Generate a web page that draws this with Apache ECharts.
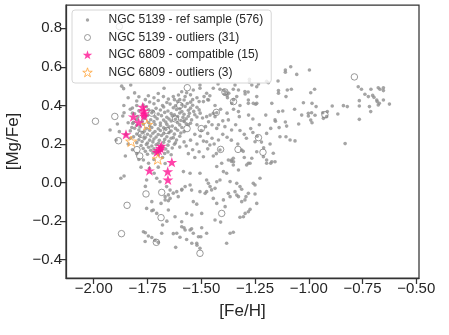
<!DOCTYPE html>
<html>
<head>
<meta charset="utf-8">
<script src="https://cdn.jsdelivr.net/npm/echarts@6/dist/echarts.min.js"></script>
<style>
  html, body { margin: 0; padding: 0; background: #fff; }
  #chart { width: 449px; height: 335px; }
</style>
</head>
<body>
<div id="chart"></div>
<script>
// tick labels
var xTicks = [-2.00, -1.75, -1.50, -1.25, -1.00, -0.75, -0.50];
var yTicks = [-0.4, -0.2, 0.0, 0.2, 0.4, 0.6, 0.8];

// NGC 5139 reference sample [Fe/H, Mg/Fe]
var refSample = [
    // far right group
    [-0.997,0.584],[-0.991,0.466],[-0.973,0.484],[-1.025,0.414],[-0.985,0.411],[-0.966,0.394],[-1.033,0.350],[-1.002,0.359],
    [-1.002,0.345],[-0.987,0.362],[-0.971,0.349],[-0.991,0.324],[-0.985,0.310],[-0.935,0.362],[-0.914,0.368],[-0.932,0.333],
    [-0.917,0.342],[-0.891,0.397],[-0.865,0.356],[-0.839,0.399],[-0.821,0.394],[-0.831,0.202],[-0.770,0.497],[-0.755,0.484],
    [-0.711,0.484],[-0.677,0.492],[-0.669,0.484],[-0.653,0.492],[-0.653,0.477],[-0.739,0.458],[-0.723,0.446],[-0.703,0.452],
    [-0.697,0.442],[-0.684,0.428],[-0.682,0.420],[-0.765,0.425],[-0.765,0.397],[-0.765,0.328],[-0.718,0.394],[-0.712,0.368],
    [-0.677,0.402],[-0.672,0.411],[-0.653,0.428],[-0.625,0.407],
    // right branch
    [-1.143,0.527],[-1.109,0.584],[-1.109,0.572],[-1.084,0.601],[-1.056,0.561],[-1.081,0.484],[-1.141,0.477],[-1.106,0.446],
    [-1.100,0.480],[-1.066,0.380],[-1.121,0.371],[-1.155,0.318],[-1.109,0.314],[-1.103,0.293],[-1.138,0.285],[-1.177,0.281],
    [-1.196,0.255],[-1.134,0.238],[-1.106,0.238],[-1.087,0.221],[-1.064,0.216],[-1.047,0.304],[-1.172,0.108],[-1.196,0.100],
    [-1.177,0.100],[-1.165,0.152],[-1.211,0.134],[-1.157,0.325],[-1.141,0.368],[-1.200,0.350],[-1.172,0.411],
    // upper band
    [-1.861,0.487],[-1.828,0.506],[-1.673,0.489],[-1.746,0.450],[-1.790,0.445],[-1.720,0.440],[-1.700,0.462],[-1.676,0.446],
    [-1.653,0.433],[-1.630,0.446],[-1.606,0.454],[-1.591,0.471],[-1.575,0.446],[-1.568,0.466],[-1.550,0.455],[-1.537,0.480],
    [-1.520,0.440],[-1.506,0.506],[-1.506,0.489],[-1.487,0.446],[-1.475,0.463],[-1.466,0.428],[-1.444,0.489],[-1.422,0.511],
    [-1.413,0.484],[-1.600,0.430],[-1.625,0.430],[-1.540,0.430],[-1.510,0.420],[-1.760,0.430],[-1.810,0.465],
    [-1.395,0.478],[-1.385,0.470],[-1.392,0.458],[-1.380,0.452],[-1.372,0.463],[-1.378,0.440],[-1.351,0.484],[-1.335,0.446],
    [-1.327,0.480],[-1.296,0.459],[-1.276,0.535],[-1.276,0.522],[-1.242,0.497],[-1.242,0.446],[-1.196,0.525],[-1.281,0.428],
    [-1.247,0.406],[-1.343,0.506],[-1.297,0.472],[-1.282,0.470],[-1.265,0.506],[-1.234,0.511],[-1.188,0.518],[-1.141,0.463],
    [-1.242,0.411],[-1.258,0.411],[-1.281,0.411],[-1.327,0.368],[-1.323,0.342],[-1.374,0.325],[-1.358,0.411],[-1.350,0.430],
    [-1.490,0.420],[-1.470,0.430],[-1.460,0.450],[-1.436,0.400],[-1.444,0.359],[-1.428,0.362],[-1.436,0.342],[-1.459,0.350],
    [-1.475,0.342],[-1.494,0.335],[-1.505,0.360],[-1.466,0.315],[-1.428,0.281],[-1.390,0.290],[-1.359,0.273],
    // left side
    [-1.924,0.273],[-1.890,0.304],[-1.859,0.362],[-1.865,0.345],[-1.881,0.264],[-1.896,0.221],[-1.853,0.138],[-1.859,0.034],
    [-1.874,0.022],[-1.823,0.286],[-1.819,0.307],[-1.840,0.310],[-1.860,0.400],[-1.850,0.250],[-1.830,0.230],[-1.840,0.200],
    [-1.820,0.170],[-1.800,0.150],[-1.790,0.120],[-1.870,0.500],[-1.840,0.440],[-1.830,0.380],[-1.800,0.400],[-1.820,0.360],
    // dense core
    [-1.80,0.423],[-1.74,0.418],[-1.70,0.426],[-1.66,0.415],[-1.61,0.421],[-1.58,0.428],[-1.55,0.417],
    [-1.77,0.402],[-1.72,0.409],[-1.68,0.400],[-1.645,0.407],[-1.62,0.398],[-1.59,0.404],[-1.565,0.410],[-1.54,0.401],
    [-1.82,0.387],[-1.755,0.393],[-1.71,0.385],[-1.675,0.392],[-1.63,0.388],[-1.60,0.383],[-1.575,0.395],[-1.55,0.386],[-1.52,0.391],
    [-1.79,0.372],[-1.745,0.378],[-1.725,0.370],[-1.69,0.376],[-1.655,0.371],[-1.615,0.379],[-1.59,0.368],[-1.56,0.375],[-1.535,0.369],[-1.51,0.377],
    [-1.81,0.357],[-1.73,0.362],[-1.70,0.355],[-1.67,0.364],[-1.64,0.358],[-1.625,0.351],[-1.60,0.361],[-1.58,0.354],[-1.555,0.359],[-1.53,0.352],
    [-1.795,0.342],[-1.75,0.348],[-1.715,0.341],[-1.685,0.347],[-1.66,0.339],[-1.635,0.346],[-1.61,0.343],[-1.585,0.338],[-1.56,0.344],[-1.52,0.340],
    [-1.80,0.327],[-1.765,0.333],[-1.735,0.326],[-1.705,0.331],[-1.675,0.324],[-1.65,0.330],[-1.62,0.328],[-1.595,0.322],[-1.57,0.331],[-1.545,0.325],
    [-1.815,0.312],[-1.775,0.318],[-1.745,0.311],[-1.72,0.316],[-1.69,0.309],[-1.665,0.314],[-1.64,0.319],[-1.61,0.310],[-1.58,0.317],[-1.55,0.308],
    [-1.80,0.297],[-1.77,0.303],[-1.74,0.294],[-1.715,0.301],[-1.69,0.296],[-1.66,0.302],[-1.635,0.293],[-1.60,0.299],[-1.57,0.305],
    [-1.81,0.282],[-1.785,0.288],[-1.755,0.280],[-1.73,0.286],[-1.70,0.279],[-1.675,0.284],[-1.65,0.289],[-1.62,0.281],[-1.59,0.286],
    [-1.83,0.268],[-1.79,0.273],[-1.765,0.266],[-1.74,0.272],[-1.715,0.265],[-1.69,0.270],[-1.665,0.276],[-1.64,0.267],[-1.61,0.271],[-1.58,0.264],
    [-1.80,0.252],[-1.775,0.258],[-1.75,0.250],[-1.725,0.256],[-1.70,0.249],[-1.675,0.254],[-1.65,0.259],[-1.625,0.251],[-1.595,0.257],
    [-1.815,0.237],[-1.785,0.243],[-1.76,0.235],[-1.735,0.241],[-1.71,0.236],[-1.685,0.244],[-1.66,0.238],[-1.63,0.233],[-1.60,0.240],
    [-1.79,0.222],[-1.765,0.228],[-1.74,0.220],[-1.72,0.226],[-1.695,0.219],[-1.67,0.224],[-1.64,0.230],[-1.615,0.221],
    [-1.80,0.207],[-1.775,0.213],[-1.75,0.205],[-1.725,0.211],[-1.70,0.204],[-1.675,0.209],[-1.65,0.214],[-1.62,0.206],[-1.58,0.211],
    [-1.78,0.192],[-1.755,0.198],[-1.73,0.190],[-1.71,0.196],[-1.68,0.189],[-1.655,0.194],[-1.625,0.199],
    [-1.77,0.177],[-1.745,0.183],[-1.72,0.175],[-1.69,0.181],[-1.665,0.174],[-1.635,0.179],[-1.60,0.184],
    [-1.76,0.162],[-1.735,0.168],[-1.715,0.160],[-1.685,0.166],[-1.655,0.159],
    [-1.75,0.147],[-1.725,0.153],[-1.70,0.145],[-1.67,0.151],[-1.64,0.144],
    // middle
    [-1.52,0.300],[-1.50,0.270],[-1.48,0.290],[-1.53,0.250],[-1.505,0.240],[-1.47,0.255],[-1.45,0.230],[-1.49,0.215],
    [-1.475,0.212],[-1.46,0.195],[-1.420,0.221],[-1.413,0.169],[-1.490,0.134],[-1.444,0.138],[-1.374,0.117],[-1.351,0.126],
    [-1.36,0.110],[-1.312,0.169],[-1.305,0.162],[-1.281,0.100],[-1.265,0.126],[-1.250,0.212],[-1.242,0.160],[-1.196,0.117],
    [-1.52,0.200],[-1.55,0.220],[-1.57,0.190],[-1.54,0.170],[-1.56,0.150],[-1.53,0.130],[-1.51,0.160],[-1.40,0.250],
    [-1.38,0.235],[-1.36,0.220],[-1.34,0.300],[-1.32,0.270],[-1.30,0.250],[-1.29,0.230],[-1.27,0.280],[-1.26,0.260],
    [-1.24,0.240],[-1.23,0.300],[-1.22,0.210],[-1.21,0.180],[-1.18,0.200],[-1.42,0.300],[-1.40,0.320],[-1.56,0.300],
    [-1.58,0.320],[-1.44,0.200],[-1.47,0.175],[-1.43,0.150],[-1.33,0.200],[-1.30,0.130],[-1.26,0.330],[-1.28,0.350],
    [-1.32,0.400],[-1.35,0.380],[-1.38,0.360],[-1.41,0.380],[-1.45,0.300],
    // lower middle
    [-1.552,-0.013],[-1.575,-0.021],[-1.590,-0.035],[-1.614,-0.047],[-1.630,-0.055],[-1.653,-0.064],[-1.645,-0.082],[-1.668,-0.090],
    [-1.607,-0.073],[-1.545,-0.039],[-1.506,0.048],[-1.475,0.013],[-1.467,-0.004],[-1.459,-0.021],[-1.475,-0.047],[-1.482,-0.056],
    [-1.452,-0.038],[-1.436,-0.030],[-1.428,0.004],[-1.413,0.013],[-1.405,0.100],[-1.397,0.057],[-1.382,0.048],[-1.359,0.117],
    [-1.351,0.091],[-1.335,-0.004],[-1.320,-0.021],[-1.343,-0.047],[-1.374,-0.056],[-1.366,-0.073],[-1.397,-0.090],[-1.444,-0.082],
    [-1.428,-0.108],[-1.389,-0.125],[-1.327,-0.073],[-1.312,-0.099],[-1.297,-0.090],[-1.281,-0.056],[-1.498,-0.160],[-1.544,-0.168],
    [-1.568,-0.160],[-1.622,-0.177],[-1.653,-0.142],[-1.723,-0.142],[-1.583,0.057],[-1.552,0.048],[-1.428,0.083],[-1.350,0.108],
    [-1.327,0.065],[-1.289,0.091],[-1.273,0.100],[-1.157,0.108],[-1.227,0.022],[-1.250,-0.013],[-1.242,-0.108],[-1.281,-0.151],
    [-1.304,-0.177],[-1.312,-0.035],[-1.366,0.005],[-1.320,-0.180],[-1.296,-0.160],[-1.273,-0.139],[-1.250,-0.059],[-1.258,-0.004],
    [-1.292,-0.073],[-1.335,-0.065],[-1.537,-0.099],[-1.521,-0.112],[-1.506,-0.047],[-1.591,-0.039],
    // bottom
    [-1.619,-0.336],[-1.506,-0.341],[-1.520,-0.325],[-1.544,-0.315],[-1.382,-0.315],[-1.351,-0.258],[-1.366,-0.263],[-1.502,-0.281],
    [-1.537,-0.263],[-1.568,-0.295],[-1.599,-0.284],[-1.630,-0.265],[-1.580,-0.235],[-1.545,-0.240],[-1.498,-0.234],[-1.475,-0.263],
    [-1.591,-0.229],[-1.614,-0.263],[-1.552,-0.246],[-1.513,-0.281],[-1.521,-0.315],[-1.436,-0.194],[-1.410,-0.205],[-1.591,-0.203],
    [-1.575,-0.246],[-1.660,-0.200],[-1.680,-0.220],[-1.769,-0.255],[-1.760,-0.260],[-1.746,-0.277],[-1.730,-0.285],[-1.761,-0.306],
    [-1.715,-0.300],[-1.700,-0.310],[-1.684,-0.263],[-1.754,-0.134],[-1.730,-0.146],[-1.707,-0.160],[-1.687,-0.108],[-1.730,-0.099],
    [-1.668,-0.073],[-1.653,-0.094],[-1.645,-0.039],[-1.661,-0.021],[-1.692,0.004],[-1.754,0.013],[-1.707,0.022],[-1.719,0.048],
    [-1.741,0.074],[-1.769,0.117],[-1.668,0.099],[-1.680,0.130],[-1.720,0.120],[-1.745,0.100],[-1.700,0.080],[-1.780,0.080],
    [-1.760,-0.020]
];

// NGC 5139 outliers
var outliers5139 = [
    [-1.881,0.809],[-1.992,0.318],[-1.902,0.343],[-1.885,0.217],[-1.799,0.171],[-1.786,0.138],[-1.757,-0.059],[-1.684,-0.051],
    [-1.687,-0.182],[-1.845,-0.118],[-1.871,-0.265],[-1.709,-0.310],[-1.506,-0.367],[-1.405,-0.160],[-1.329,0.172],[-1.234,0.233],
    [-1.213,0.157],[-1.565,0.492],[-1.566,0.280],[-0.788,0.548],[-0.925,0.352],[-1.410,0.172],[-1.390,0.470],[-1.430,0.364],
    [-1.730,0.360],[-1.660,0.270],[-1.620,0.330],[-1.780,0.250],[-1.600,0.400],[-1.500,0.280],[-1.350,0.420]
];

// NGC 6809 stars
var compatible6809 = [
    [-1.772,0.392],[-1.768,0.372],[-1.766,0.358],[-1.766,0.345],[-1.816,0.342],[-1.791,0.312],[-1.850,0.250],
    [-1.686,0.190],[-1.690,0.178],[-1.698,0.168],[-1.707,0.158],
    [-1.637,0.106],[-1.741,0.062],[-1.656,0.057],[-1.655,0.015]
];
var outliers6809 = [[-1.752,0.300],[-1.826,0.214],[-1.702,0.122]];

var seriesNames = ['NGC 5139 - ref sample (576)', 'NGC 5139 - outliers (31)', 'NGC 6809 - compatible (15)', 'NGC 6809 - outliers (3)'];

var font = 'Liberation Sans, Arial, sans-serif';
var ink = '#262626';

// 5 point star like matplotlib '*'
function starPoints(cx, cy, r) {
    var p = [];
    for (var i = 0; i < 10; i++) {
        var rr = i % 2 ? r * 0.382 : r;
        var a = (-90 + i * 36) * Math.PI / 180;
        p.push((cx + rr * Math.cos(a)).toFixed(2) + ',' + (cy + rr * Math.sin(a)).toFixed(2));
    }
    return 'M' + p.join('L') + 'Z';
}
var starSymbol = 'path://' + starPoints(0, 0, 10);
// legend icons keep a 12x12 box so the marks keep their own size
var box = 'M0,0M12,12';
var dotIcon = 'path://' + box + 'M6,4.3A1.7,1.7,0,1,1,6,7.7A1.7,1.7,0,1,1,6,4.3Z';
var ringIcon = 'path://' + box + 'M6,3A3,3,0,1,1,6,9A3,3,0,1,1,6,3Z';
var starIcon = 'path://' + box + starPoints(6, 6.3, 5);

var chart = echarts.init(document.getElementById('chart'));

function fmtX(v) {
    return (v < 0 ? '\u2212' : '') + Math.abs(v).toFixed(2);
}
function fmtY(v) {
    return (v < 0 ? '\u2212' : '') + Math.abs(v).toFixed(1);
}

var axisLine = {show: true, onZero: false, lineStyle: {color: '#333', width: 1.25}};

var option = {
    animation: false,
    grid: {
        left: 66, right: 30, top: 5, bottom: 57,
        show: true, borderColor: '#333', borderWidth: 1.25,
        containLabel: false, outerBoundsMode: 'none'
    },
    legend: {
        left: 72, top: 10,
        orient: 'vertical',
        padding: [4, 8, 4, 9],
        itemWidth: 24, itemHeight: 12, itemGap: 5,
        backgroundColor: 'rgba(255,255,255,0.8)',
        borderColor: '#d6d6d6', borderWidth: 1, borderRadius: 3,
        selectedMode: false,
        textStyle: {fontFamily: font, fontSize: 12, color: ink, lineHeight: 12, padding: [0, 0, 0, 4]},
        data: [
            {name: seriesNames[0], icon: dotIcon, itemStyle: {color: '#8f8f8f', borderWidth: 0}},
            {name: seriesNames[1], icon: ringIcon, itemStyle: {color: 'rgba(255,255,255,0)', borderColor: '#7f7f7f', borderWidth: 1}},
            {name: seriesNames[2], icon: starIcon, itemStyle: {color: '#ff1493', borderWidth: 0}},
            {name: seriesNames[3], icon: starIcon, itemStyle: {color: 'rgba(255,255,255,0)', borderColor: '#ffa43a', borderWidth: 1}}
        ]
    },
    xAxis: {
        type: 'value',
        min: -2.129, max: -0.4875,
        name: '[Fe/H]', nameLocation: 'middle', nameGap: 25,
        nameTextStyle: {fontFamily: font, fontSize: 17, color: ink},
        axisLine: axisLine,
        axisTick: {show: true, length: 6, lineStyle: {color: '#333', width: 1.25}, customValues: xTicks},
        axisLabel: {customValues: xTicks, formatter: fmtX, fontFamily: font, fontSize: 15, color: ink, margin: 3},
        splitLine: {show: false}
    },
    yAxis: {
        type: 'value',
        min: -0.495, max: 0.921,
        name: '[Mg/Fe]', nameLocation: 'middle', nameGap: 44,
        nameTextStyle: {fontFamily: font, fontSize: 17, color: ink},
        axisLine: axisLine,
        axisTick: {show: true, length: 6, lineStyle: {color: '#333', width: 1.25}, customValues: yTicks},
        axisLabel: {customValues: yTicks, formatter: fmtY, fontFamily: font, fontSize: 15, color: ink, margin: 4},
        splitLine: {show: false}
    },
    series: [
        {
            name: seriesNames[0], type: 'scatter', silent: true,
            symbol: 'circle', symbolSize: 3.6,
            itemStyle: {color: '#8f8f8f'},
            data: refSample, z: 2
        },
        {
            name: seriesNames[1], type: 'scatter', silent: true,
            symbol: 'circle', symbolSize: 6.5,
            itemStyle: {color: 'rgba(255,255,255,0)', borderColor: '#7f7f7f', borderWidth: 1},
            data: outliers5139, z: 3
        },
        {
            name: seriesNames[2], type: 'scatter', silent: true,
            symbol: starSymbol, symbolSize: 11, symbolKeepAspect: true,
            itemStyle: {color: '#ff1493'},
            data: compatible6809, z: 4
        },
        {
            name: seriesNames[3], type: 'scatter', silent: true,
            symbol: starSymbol, symbolSize: 11, symbolKeepAspect: true,
            itemStyle: {color: 'rgba(255,255,255,0)', borderColor: '#ffa43a', borderWidth: 1},
            data: outliers6809, z: 5
        }
    ]
};

chart.setOption(option);
</script>
</body>
</html>
